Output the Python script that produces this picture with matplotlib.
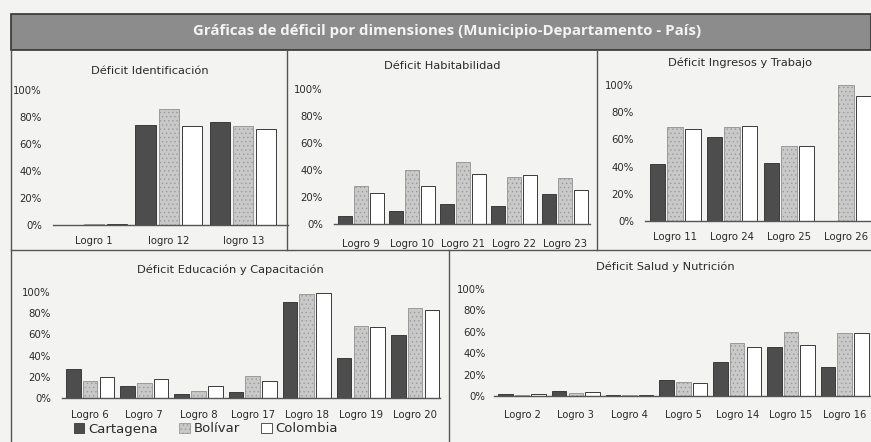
import matplotlib
matplotlib.use("Agg")
import matplotlib.pyplot as plt
import numpy as np
from matplotlib.lines import Line2D
from matplotlib.patches import Rectangle, Patch

plt.rcParams['font.family'] = ['DejaVu Sans']

W, H = 871, 442

series_names = ["Cartagena", "Bolívar", "Colombia"]

# Déficit Identificación
ident_cats = ["Logro 1", "logro 12", "logro 13"]
ident_cartagena = [0.003, 0.74, 0.76]
ident_bolivar = [0.008, 0.86, 0.73]
ident_colombia = [0.008, 0.73, 0.71]

# Déficit Habitabilidad
habit_cats = ["Logro 9", "Logro 10", "Logro 21", "Logro 22", "Logro 23"]
habit_cartagena = [0.06, 0.10, 0.15, 0.13, 0.22]
habit_bolivar = [0.28, 0.40, 0.46, 0.35, 0.34]
habit_colombia = [0.23, 0.28, 0.37, 0.36, 0.25]

# Déficit Ingresos y Trabajo
ingr_cats = ["Logro 11", "Logro 24", "Logro 25", "Logro 26"]
ingr_cartagena = [0.42, 0.62, 0.43, 0.0]
ingr_bolivar = [0.69, 0.69, 0.55, 1.00]
ingr_colombia = [0.68, 0.70, 0.55, 0.92]

# Déficit Educación y Capacitación
educ_cats = ["Logro 6", "Logro 7", "Logro 8", "Logro 17", "Logro 18", "Logro 19", "Logro 20"]
educ_cartagena = [0.27, 0.11, 0.04, 0.06, 0.91, 0.38, 0.59]
educ_bolivar = [0.16, 0.14, 0.07, 0.21, 0.98, 0.68, 0.85]
educ_colombia = [0.20, 0.18, 0.11, 0.16, 0.99, 0.67, 0.83]

# Déficit Salud y Nutrición
salud_cats = ["Logro 2", "Logro 3", "Logro 4", "Logro 5", "Logro 14", "Logro 15", "Logro 16"]
salud_cartagena = [0.02, 0.05, 0.01, 0.15, 0.32, 0.46, 0.27]
salud_bolivar = [0.01, 0.03, 0.01, 0.13, 0.50, 0.60, 0.59]
salud_colombia = [0.02, 0.04, 0.01, 0.12, 0.46, 0.48, 0.59]

y_ticks = [0, 0.2, 0.4, 0.6, 0.8, 1.0]
y_ticklabels = ["0%", "20%", "40%", "60%", "80%", "100%"]

bg = "#f3f3f1"
col_cart = "#4d4d4d"
col_bol = "#c9c9c9"
col_col = "#ffffff"
edge = "#3a3a3a"
txt = "#2a2a2a"

plt.rcParams['hatch.color'] = "#8a8a8a"
plt.rcParams['hatch.linewidth'] = 0.5

fig = plt.figure(figsize=(W / 100, H / 100), dpi=100, facecolor=bg)


def px_axes(x0, y0, x1, y1):
    return fig.add_axes([x0 / W, 1 - y1 / H, (x1 - x0) / W, (y1 - y0) / H])


def fline(x0, y0, x1, y1, color="#555555", lw=1.0):
    fig.add_artist(Line2D([x0 / W, x1 / W], [1 - y0 / H, 1 - y1 / H],
                          color=color, lw=lw, transform=fig.transFigure))


def panel(rect, cats, vals, title, title_xy, xlim, xpad, ypad, lsize=7.3):
    ax = px_axes(*rect)
    ax.set_facecolor("none")
    x = np.arange(len(cats))
    w = 0.27
    offs = [-0.31, 0.0, 0.31]
    colors = [col_cart, col_bol, col_col]
    hatches = ["", "....", ""]
    for v, o, c, h in zip(vals, offs, colors, hatches):
        ax.bar(x + o, v, width=w, color=c, edgecolor=edge if c != col_bol else "#9a9a9a",
               linewidth=0.7, hatch=h, clip_on=False, zorder=2)
    ax.set_xlim(*xlim)
    ax.set_ylim(0, 1)
    ax.set_yticks(y_ticks)
    ax.set_yticklabels(y_ticklabels)
    ax.set_xticks(x)
    ax.set_xticklabels(cats)
    ax.tick_params(axis="y", length=0, pad=ypad, labelsize=7.3, labelcolor=txt)
    ax.tick_params(axis="x", length=0, pad=xpad, labelsize=lsize, labelcolor=txt)
    for s in ["top", "right", "left"]:
        ax.spines[s].set_visible(False)
    ax.spines["bottom"].set_color("#555555")
    ax.spines["bottom"].set_linewidth(1.0)
    ax.spines["bottom"].set_zorder(3)
    fig.text(title_xy[0] / W, 1 - title_xy[1] / H, title, ha="center", va="center",
             fontsize=8.2, color=txt)
    return ax


panel((53, 90, 288, 225), ident_cats, [ident_cartagena, ident_bolivar, ident_colombia],
      "Déficit Identificación", (150, 71), (-0.55, 2.6), 8, 8)
panel((334, 89, 590, 224), habit_cats, [habit_cartagena, habit_bolivar, habit_colombia],
      "Déficit Habitabilidad", (442, 66), (-0.53, 4.49), 11, 8)
panel((645, 85, 871, 221), ingr_cats, [ingr_cartagena, ingr_bolivar, ingr_colombia],
      "Déficit Ingresos y Trabajo", (740, 63), (-0.53, 3.44), 8, 8)
panel((62, 292, 440, 398), educ_cats, [educ_cartagena, educ_bolivar, educ_colombia],
      "Déficit Educación y Capacitación", (230, 270), (-0.52, 6.46), 9, 8)
panel((494, 289, 870, 396), salud_cats, [salud_cartagena, salud_bolivar, salud_colombia],
      "Déficit Salud y Nutrición", (665, 267), (-0.52, 6.47), 10, 6, lsize=7.1)

# Title band
fig.add_artist(Rectangle((11 / W, 1 - 50 / H), (W - 11) / W, 36 / H,
                         transform=fig.transFigure, facecolor="#8c8c8c",
                         edgecolor="#333333", lw=1.2))
fig.text(447 / W, 1 - 31 / H, "Gráficas de déficil por dimensiones (Municipio-Departamento - País)",
         ha="center", va="center", fontsize=10.8, fontweight="bold", color="#f4f4f4",
         family=["Open Sans", "DejaVu Sans"])

# Panel frame lines
fline(11, 50, 11, 442)
fline(11, 250, 871, 250)
fline(287, 50, 287, 250)
fline(597, 50, 597, 250)
fline(449, 250, 449, 442)

# Legend
handles = [Patch(facecolor=col_cart, edgecolor=edge, lw=0.6),
           Patch(facecolor=col_bol, edgecolor="#9a9a9a", lw=0.6, hatch="...."),
           Patch(facecolor=col_col, edgecolor=edge, lw=0.6)]
fig.legend(handles, series_names, loc="center", bbox_to_anchor=(206 / W, 1 - 429 / H),
           ncol=3, frameon=False, fontsize=9.5, handlelength=0.8, handleheight=0.8,
           handletextpad=0.3, columnspacing=1.6, labelcolor=txt)

fig.savefig("out.png", dpi=100, facecolor=bg)
